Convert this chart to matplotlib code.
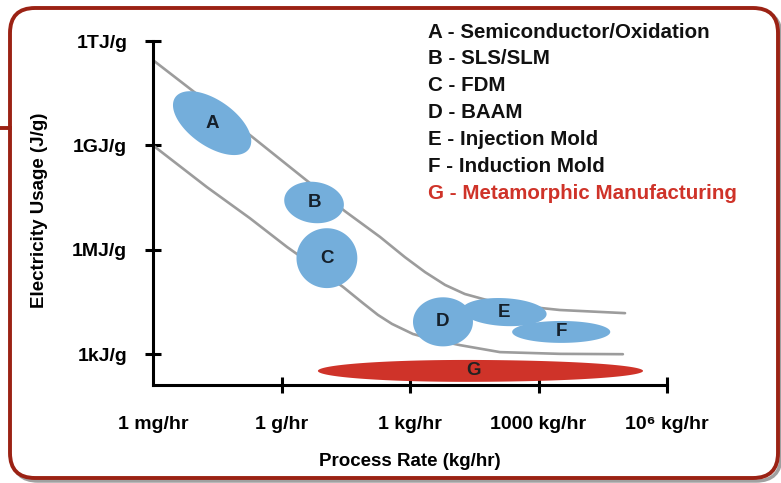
import numpy as np
import matplotlib.pyplot as plt
from matplotlib.patches import FancyBboxPatch
from matplotlib.lines import Line2D
from matplotlib.transforms import IdentityTransform

plt.rcParams['font.family'] = ['Liberation Sans', 'DejaVu Sans']

# gray boundary curves, log10 of process rate (kg/hr) vs log10 of energy (J/g)
upper_rate = [-6.0, -3.74, -2.40, -1.52, -0.70, -0.12, 0.35, 0.82, 1.28, 1.87, 2.57, 3.50, 5.02]
upper_energy = [11.45, 9.30, 7.98, 7.11, 6.37, 5.79, 5.36, 4.99, 4.73, 4.53, 4.39, 4.27, 4.18]
lower_rate = [-6.0, -4.74, -3.74, -2.87, -2.64, -1.56, -1.10, -0.75, -0.42, 0.07, 0.58, 1.17, 2.10, 3.50, 4.97]
lower_energy = [9.0, 7.80, 6.91, 6.08, 5.88, 4.93, 4.47, 4.13, 3.87, 3.58, 3.41, 3.26, 3.06, 3.01, 3.0]

# process regions (log10 centres, extents in decades, tilt in degrees)
region_labels = ['A', 'B', 'C', 'D', 'E', 'F']
region_rate = [-4.62, -2.24, -1.94, 0.77, 2.20, 3.53]
region_energy = [9.64, 7.36, 5.76, 3.93, 4.21, 3.64]
region_rate_span = [2.10, 1.40, 1.42, 1.40, 1.98, 2.29]
region_energy_span = [1.32, 1.18, 1.72, 1.41, 0.80, 0.63]
region_tilt = [-35, -8, 0, 0, -3, 0]

# metamorphic manufacturing band
g_rate_min, g_rate_peak, g_rate_max = -2.15, 1.28, 5.44
g_energy, g_energy_span = 2.52, 0.63

legend_items = ['A - Semiconductor/Oxidation', 'B - SLS/SLM', 'C - FDM', 'D - BAAM',
                'E - Injection Mold', 'F - Induction Mold', 'G - Metamorphic Manufacturing']

x_ticks = [1e-6, 1e-3, 1, 1e3, 1e6]
x_labels = ['1 mg/hr', '1 g/hr', '1 kg/hr', '1000 kg/hr', '10⁶ kg/hr']
y_ticks = [1e3, 1e6, 1e9, 1e12]
y_labels = ['1kJ/g', '1MJ/g', '1GJ/g', '1TJ/g']

blue = '#74aedb'
red = '#cf3329'
border = '#9b2214'

W, H = 781, 483
fig = plt.figure(figsize=(W / 100, H / 100), dpi=100)
ax_pos = [153 / W, 1 - 385 / H, 514 / W, 344 / H]
ax = fig.add_axes(ax_pos)
ax.patch.set_visible(False)
ax.set_xscale('log')
ax.set_yscale('log')
ylo = 2.115
ax.set_xlim(1e-6, 1e6)
ax.set_ylim(10 ** ylo, 1e12)

# px per decade in y over px per decade in x, to keep tilted blobs right on screen
k = (ax_pos[3] * H / (12 - ylo)) / (ax_pos[2] * W / 12)

def blob(x0, y0, w, h, tilt, color, left=None, right=None):
    t = np.linspace(0, 2 * np.pi, 300)
    a = np.where(np.cos(t) >= 0, right if right else w / 2, left if left else w / 2)
    b = h / 2 * k
    ex, ey = a * np.cos(t), b * np.sin(t)
    c, s = np.cos(np.radians(tilt)), np.sin(np.radians(tilt))
    xr = ex * c - ey * s
    yr = (ex * s + ey * c) / k
    ax.fill(10 ** (x0 + xr), 10 ** (y0 + yr), color=color, lw=0, zorder=3)

for rate, energy in [(upper_rate, upper_energy), (lower_rate, lower_energy)]:
    ax.plot(10 ** np.array(rate), 10 ** np.array(energy), color='#9c9c9c', lw=1.9,
            solid_joinstyle='round', solid_capstyle='round', zorder=2)

for i, lab in enumerate(region_labels):
    blob(region_rate[i], region_energy[i], region_rate_span[i], region_energy_span[i],
         region_tilt[i], blue)
for i, lab in enumerate(region_labels):
    ax.text(10 ** region_rate[i], 10 ** region_energy[i], lab, ha='center', va='center',
            fontsize=13.5, fontweight='bold', color='#15202b', zorder=5)

blob(g_rate_peak, g_energy, 0, g_energy_span, 0, red,
     left=g_rate_peak - g_rate_min, right=g_rate_max - g_rate_peak)
ax.text(10 ** (g_rate_peak + 0.2), 10 ** g_energy, 'G', ha='center', va='center',
        fontsize=13.5, fontweight='bold', color='#222222', zorder=5)

for side in ['top', 'right']:
    ax.spines[side].set_visible(False)
for side in ['left', 'bottom']:
    ax.spines[side].set_linewidth(2.2)
ax.set_xticks(x_ticks)
ax.set_xticklabels(x_labels, fontsize=14, fontweight='bold')
ax.set_yticks(y_ticks)
ax.set_yticklabels(y_labels, fontsize=14, fontweight='bold')
ax.minorticks_off()
ax.tick_params(axis='both', direction='inout', length=11, width=2.2)
ax.tick_params(axis='x', pad=17)
ax.tick_params(axis='y', pad=13)
ax.xaxis.get_major_ticks()[0].tick1line.set_visible(False)

ax.set_xlabel('Process Rate (kg/hr)', fontsize=13.5, fontweight='bold')
ax.xaxis.label.set_va('center')
ax.xaxis.set_label_coords(0.5, (H - 462 - (H - 385)) / 344)
ax.set_ylabel('Electricity Usage (J/g)', fontsize=13.5, fontweight='bold')
ax.yaxis.label.set_va('center')
ax.yaxis.set_label_coords((40 - 153) / 514, (H - 210 - (H - 385)) / 344)

for i, item in enumerate(legend_items):
    fig.text(428 / W, (H - 37.5 - i * 26.9) / H, item, fontsize=14.8, fontweight='bold',
             va='baseline', ha='left', color=red if item.startswith('G') else '#111111')

# rounded frame with a faint shadow
shadow = FancyBboxPatch((13, 2), 768, 470, boxstyle='round,pad=0,rounding_size=25',
                        transform=IdentityTransform(), fc='none', ec='#a0a0a0', lw=2.5, zorder=-2)
frame = FancyBboxPatch((10, 5), 768, 470, boxstyle='round,pad=0,rounding_size=25',
                       transform=IdentityTransform(), fc='white', ec=border, lw=2.8, zorder=-1)
fig.add_artist(shadow)
fig.add_artist(frame)
fig.add_artist(Line2D([0, 10], [H - 128, H - 128], transform=IdentityTransform(),
                      color=border, lw=2.8, zorder=-1))

fig.savefig('out.png', dpi=100)
